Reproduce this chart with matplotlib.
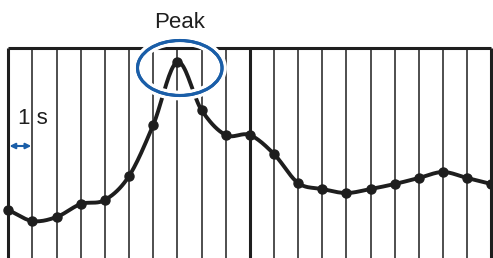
import matplotlib.pyplot as plt
import matplotlib.patheffects as pe
from matplotlib.patches import Ellipse
import numpy as np

plt.rcParams['font.family'] = ['Liberation Sans', 'DejaVu Sans']

# samples, one per second
seconds = list(range(21))
signal = [48, 37, 41, 54, 58, 82, 133, 196, 148, 123, 123,
          104, 75, 69, 65, 69, 74, 80, 86, 80, 74]

peak_label = "Peak"
interval_label = "1 s"
blue = '#1a5ea8'
ink = '#1e1e1e'


def smooth(x, y, n=20):
    """Catmull-Rom curve through the samples"""
    x = np.asarray(x, float)
    y = np.asarray(y, float)
    px = np.concatenate([[2 * x[0] - x[1]], x, [2 * x[-1] - x[-2]]])
    py = np.concatenate([[2 * y[0] - y[1]], y, [2 * y[-1] - y[-2]]])
    xs, ys = [], []
    t = np.linspace(0, 1, n, endpoint=False)
    for i in range(1, len(px) - 2):
        for p, out in ((px, xs), (py, ys)):
            p0, p1, p2, p3 = p[i - 1], p[i], p[i + 1], p[i + 2]
            out.extend(0.5 * (2 * p1 + (-p0 + p2) * t
                              + (2 * p0 - 5 * p1 + 4 * p2 - p3) * t ** 2
                              + (-p0 + 3 * p1 - 3 * p2 + p3) * t ** 3))
    xs.append(x[-1])
    ys.append(y[-1])
    return np.array(xs), np.array(ys)


fig = plt.figure(figsize=(4.93, 2.58), dpi=100)
ax = fig.add_axes([0, 0, 1, 1])
ax.set_xlim(-0.344, 20.07)
ax.set_ylim(0, 258)
ax.axis('off')

top = 210
widths = [1.1] * len(seconds)
widths[0] = widths[10] = widths[-1] = 2.2
ax.vlines(seconds, 0, top, colors=ink, linewidths=widths, zorder=1)
ax.hlines(top, seconds[0], seconds[-1], colors=ink, linewidth=2.2, zorder=1)

cx, cy = smooth(seconds, signal)
ax.plot(cx, cy, color=ink, lw=2.8, zorder=2)
ax.plot(seconds, signal, 'o', color=ink, ms=6.5, zorder=3)

peak_t = seconds[int(np.argmax(signal))]
ell = Ellipse((peak_t + 0.1, 190), 3.5, 55, fill=False, edgecolor=blue,
              lw=2.2, zorder=4,
              path_effects=[pe.withStroke(linewidth=7, foreground='white'),
                            pe.Normal()])
ax.add_patch(ell)
ax.text(peak_t + 0.1, 236, peak_label, ha='center', va='center',
        fontsize=16, color=ink)

ax.text(1.02, 140, interval_label, ha='center', va='center',
        fontsize=16, color=ink, zorder=4)
ax.annotate('', xy=(seconds[0] + 0.05, 112), xytext=(seconds[1] - 0.05, 112),
            arrowprops=dict(arrowstyle='<|-|>', color=blue, lw=1.5,
                            mutation_scale=8, shrinkA=0, shrinkB=0),
            zorder=4)

fig.savefig('out.png', dpi=100)
